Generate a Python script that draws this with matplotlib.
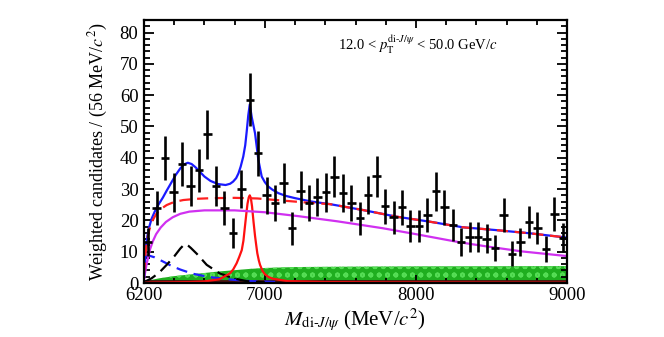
from matplotlib import pyplot as plt
from matplotlib.ticker import MultipleLocator, FixedLocator
import numpy as np

plt.rcParams['font.family'] = ['Liberation Serif', 'DejaVu Serif']
plt.rcParams['mathtext.fontset'] = 'stix'
plt.rcParams['hatch.linewidth'] = 1.2

# binned data, 50 bins of 56 MeV from 6200 to 9000
bin_width = 56
counts = [13, 24, 40, 29, 38, 31, 36, 47.5, 31, 24,
          16, 30, 58.5, 41.5, 28, 25.5, 32, 17.5, 29.5, 25.5,
          27.5, 29, 34, 28.7, 25.6, 20.7, 28, 34.1, 24.5, 21,
          24.2, 18.1, 18.3, 21.8, 29.3, 24.2, 18.5, 13.2, 14.7, 14.7,
          14.2, 11.1, 21.8, 9.3, 13, 19.5, 17.5, 10.9, 22.1, 14.5]
errors = [4.5, 5.5, 7, 6.2, 7, 6.3, 6.8, 7.8, 6.3, 5.5,
          4.8, 6.2, 8.5, 7.2, 6, 5.7, 6.4, 5.3, 6.2, 5.7,
          6, 6.2, 6.6, 6.1, 5.8, 5.3, 6.1, 6.6, 5.6, 5.3,
          5.6, 5.1, 5.1, 5.4, 6.2, 5.6, 5.1, 4.5, 4.7, 4.7,
          4.6, 4.2, 5.4, 4, 4.5, 5.2, 5.1, 4.2, 5.5, 4.6]

# fit curves (mass in MeV, value)
total_m = [6200, 6205, 6212, 6222, 6235, 6250, 6270, 6295, 6325, 6350, 6380, 6410,
           6440, 6465, 6490, 6515, 6540, 6570, 6600, 6640, 6690, 6740, 6770, 6790,
           6810, 6825, 6840, 6857, 6870, 6880, 6890, 6900, 6913, 6935, 6957, 6979,
           7000, 7023, 7050, 7089, 7140, 7200, 7310, 7430, 7650, 7870, 8090, 8310,
           8530, 8750, 9000]
total_v = [2, 6, 11, 15, 18, 20.5, 22.7, 25, 27.3, 29.5, 32, 34.5,
           36.6, 37.9, 38.4, 38, 37, 35.5, 34, 32.6, 31.6, 31.3, 31.7, 32.4,
           33.5, 35, 37.2, 40.4, 44, 48.5, 53.5, 57, 53, 47.8, 39.3, 34,
           32.2, 30.8, 29.8, 28.7, 27.8, 27.1, 26, 25.2, 23.3, 21.2, 19.6, 17.8,
           16.9, 15.9, 14.5]

bkg_m = [6200, 6205, 6210, 6220, 6235, 6255, 6280, 6310, 6350, 6400, 6460, 6550,
         6650, 6800, 6950, 7100, 7300, 7430, 7650, 7870, 8090, 8310, 8530, 8750,
         9000]
bkg_v = [3, 6, 9.5, 13.5, 17, 19.8, 22, 23.6, 24.9, 25.9, 26.5, 26.9,
         27.1, 27.2, 27, 26.4, 25.6, 25.2, 23.3, 21.2, 19.6, 17.8, 16.9, 15.9,
         14.5]

nrsps_m = [6200, 6206, 6215, 6226, 6240, 6258, 6280, 6310, 6345, 6390, 6440, 6500,
           6600, 6800, 7000, 7230, 7480, 7780, 8000, 8290, 8480, 8700, 9000]
nrsps_v = [1, 3, 5.5, 8, 10.8, 13.3, 15.6, 17.7, 19.5, 21, 22.1, 22.8,
           23.2, 23.2, 22.6, 21.3, 19.7, 17.5, 15.6, 13, 11.6, 10.1, 8.6]

x6900_m = [6200, 6500, 6600, 6700, 6769, 6790, 6813, 6830, 6847, 6858, 6868, 6877,
           6885, 6893, 6900, 6907, 6915, 6925, 6935, 6943, 6950, 6960, 6968, 6985,
           7000, 7025, 7050, 7150, 7400, 7800, 9000]
x6900_v = [0.1, 0.3, 0.5, 1.2, 3.1, 4.3, 6.3, 8.3, 10.5, 13.5, 18, 22,
           25.3, 27.3, 28, 27.2, 24.5, 19.5, 15, 12, 9.5, 7.2, 5.8, 3.8,
           2.8, 1.9, 1.4, 0.6, 0.3, 0.2, 0.1]

bump_m = [6200, 6250, 6300, 6350, 6400, 6440, 6458, 6475, 6493, 6510, 6550, 6615,
          6700, 6790, 6880, 7000]
bump_v = [0.3, 1.5, 3.3, 5.8, 8.5, 11, 11.9, 12.5, 11.9, 11.2, 9.3, 5.8,
          3.1, 1.5, 0.6, 0.2]

low_m = [6200, 6230, 6270, 6320, 6380, 6440, 6520, 6620, 6750, 6900, 7100]
low_v = [8.5, 8.8, 8.2, 7, 5.5, 4.3, 3, 2, 1.2, 0.6, 0.3]

green_m = [6200, 6300, 6400, 6500, 6600, 6700, 6800, 6900, 7000, 7200, 7500, 8000, 9000]
green_v = [0.5, 1.5, 2.2, 2.7, 3.2, 3.7, 4.1, 4.5, 4.8, 5.1, 5.2, 5.3, 5.4]

fig = plt.figure(figsize=(6.64, 3.37), dpi=100)
ax = fig.add_axes([0.2169, 0.1602, 0.637, 0.7805])

ax.fill_between(green_m, 0, green_v, facecolor='#1fae1f', edgecolor='#55dd55',
                hatch='oo', linewidth=0)
ax.plot([6200, 9000], [0.7, 0.7], color='#4a1010', lw=2)

ax.plot(low_m, low_v, color='#2020ff', lw=1.6, ls=(0, (5, 3)))
ax.plot(bump_m, bump_v, color='black', lw=1.6, ls=(0, (6, 3)))
ax.plot(x6900_m, x6900_v, color='#ff1010', lw=1.6)
ax.plot(nrsps_m, nrsps_v, color='#d030f0', lw=1.6)
ax.plot(total_m, total_v, color='#1a1aff', lw=1.6)
ax.plot(bkg_m, bkg_v, color='#ff2020', lw=1.6, ls=(0, (5, 3)))

centers = 6200 + bin_width / 2 + bin_width * np.arange(len(counts))
ax.errorbar(centers, counts, yerr=errors, xerr=bin_width / 2, fmt='none',
            ecolor='black', elinewidth=1.9, capsize=0, zorder=5)

ax.set_xlim(6200, 9000)
ax.set_ylim(0, 84)
ax.xaxis.set_major_locator(FixedLocator([6200, 7000, 8000, 9000]))
ax.xaxis.set_minor_locator(MultipleLocator(200))
ax.yaxis.set_major_locator(MultipleLocator(10))
ax.yaxis.set_minor_locator(MultipleLocator(2))
ax.yaxis.set_major_formatter(plt.FuncFormatter(lambda v, p: '%d' % v))
ax.tick_params(which='both', direction='in', top=True, right=True, width=1.3,
               labelsize=13.5)
ax.tick_params(axis='x', which='major', length=6, pad=3)
ax.tick_params(axis='x', which='minor', length=3.5)
ax.tick_params(axis='y', which='major', length=7.5, pad=4)
ax.tick_params(axis='y', which='minor', length=4)
for s in ax.spines.values():
    s.set_linewidth(1.6)

ax.set_ylabel(r'Weighted candidates / (56 MeV/$c^2$)', fontsize=13)
ax.yaxis.set_label_coords(-0.08, 0.5)
ax.set_xlabel(r'$M_{\mathrm{di}\text{-}J/\psi}$ (MeV/$c^2$)', fontsize=15)
ax.xaxis.set_label_coords(0.499, -0.09)

ax.text(7484, 76, r'12.0 < $p_{\mathrm{T}}^{\mathrm{di}\text{-}J/\psi}$ < 50.0 GeV/$c$',
        fontsize=10.5, ha='left', va='center')

fig.savefig('out.png', dpi=100)
